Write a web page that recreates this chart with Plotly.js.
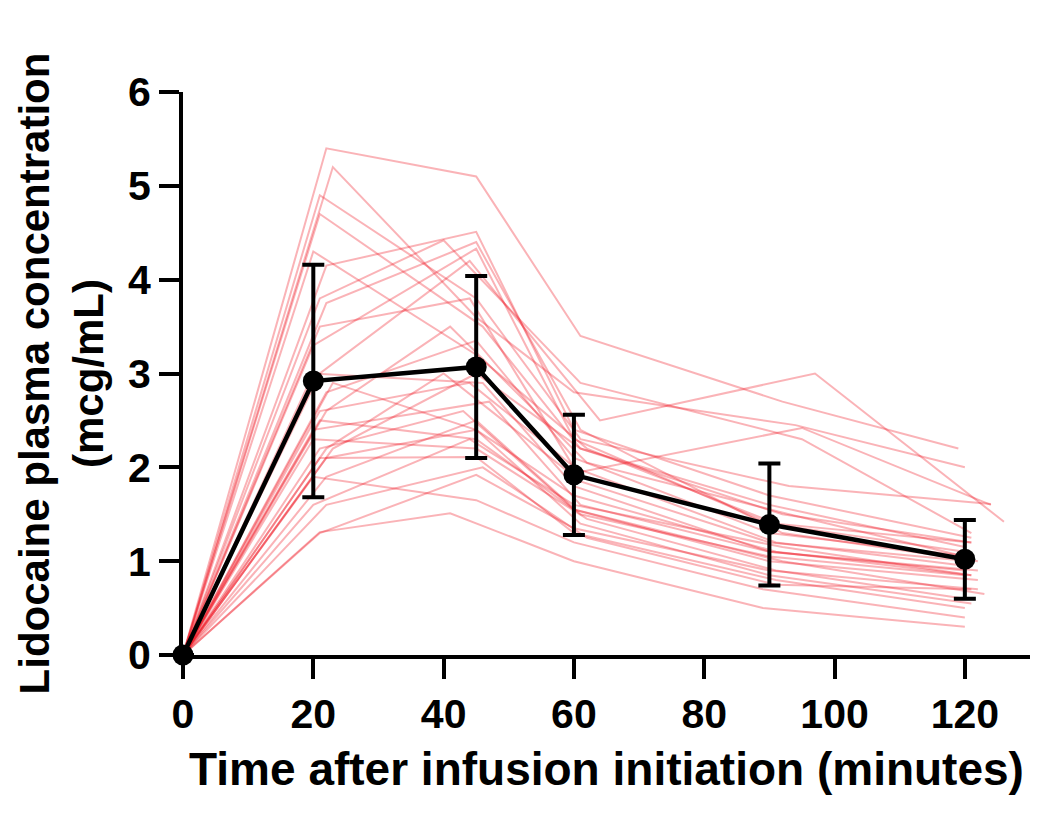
<!DOCTYPE html>
<html>
<head>
<meta charset="utf-8">
<script src="https://cdn.plot.ly/plotly-3.0.1.min.js"></script>
<style>
  html, body { margin: 0; padding: 0; background: #ffffff; }
  #chart { width: 1050px; height: 814px; }
</style>
</head>
<body>
<div id="chart"></div>
<script>
// Individual patient sampling times (minutes)
const patientTimes = [
  [0, 22, 45, 61, 92, 119],
  [0, 23, 45, 60, 94, 120],
  [0, 21, 45, 61, 93, 124],
  [0, 21, 46, 61, 92, 121],
  [0, 20, 45, 62, 91, 121],
  [0, 22, 45, 60, 90, 121],
  [0, 21, 40, 61, 95, 121],
  [0, 22, 45, 61, 92, 122],
  [0, 20, 45, 60, 90, 120],
  [0, 21, 44, 60, 91, 120],
  [0, 22, 45, 60, 90, 121],
  [0, 21, 44, 64, 97, 126],
  [0, 21, 44, 61, 95, 124],
  [0, 20, 46, 60, 90, 122],
  [0, 22, 41, 62, 93, 120],
  [0, 23, 45, 60, 91, 121],
  [0, 20, 47, 61, 90, 120],
  [0, 21, 45, 60, 92, 123],
  [0, 22, 40, 61, 90, 121],
  [0, 20, 45, 62, 91, 120],
  [0, 21, 43, 60, 90, 122],
  [0, 21, 45, 60, 91, 120],
  [0, 22, 45, 61, 90, 121],
  [0, 20, 45, 60, 89, 120],
  [0, 22, 46, 62, 91, 121],
  [0, 21, 45, 60, 90, 122],
  [0, 21, 41, 60, 89, 120],
  [0, 22, 45, 61, 90, 120],
  [0, 20, 44, 60, 92, 121],
  [0, 23, 45, 61, 90, 120]
];

// Individual patient lidocaine concentrations (mcg/mL)
const patientConc = [
  [0, 5.40, 5.10, 3.40, 2.70, 2.20],
  [0, 5.20, 3.60, 2.80, 2.45, 2.00],
  [0, 4.90, 3.80, 2.30, 1.80, 1.61],
  [0, 4.70, 3.50, 2.20, 1.50, 1.20],
  [0, 4.30, 3.20, 2.20, 1.40, 1.20],
  [0, 4.15, 4.51, 2.40, 1.70, 1.25],
  [0, 3.80, 4.42, 2.90, 2.30, 1.30],
  [0, 3.75, 4.40, 2.40, 1.30, 1.00],
  [0, 3.30, 4.33, 2.30, 1.40, 1.10],
  [0, 3.50, 3.80, 2.00, 1.20, 0.95],
  [0, 2.80, 3.35, 2.10, 1.30, 1.05],
  [0, 3.00, 4.20, 2.50, 3.00, 1.42],
  [0, 2.60, 2.90, 1.95, 2.42, 1.60],
  [0, 3.00, 2.90, 1.80, 1.10, 0.90],
  [0, 2.60, 3.50, 2.05, 1.50, 1.05],
  [0, 2.90, 2.40, 1.70, 1.10, 0.85],
  [0, 2.40, 2.70, 1.60, 1.10, 0.90],
  [0, 2.50, 2.30, 1.55, 1.00, 0.65],
  [0, 2.20, 3.00, 1.85, 1.20, 1.00],
  [0, 2.30, 2.20, 1.45, 0.90, 0.60],
  [0, 2.20, 2.60, 1.55, 1.00, 0.80],
  [0, 2.10, 2.11, 1.30, 0.80, 0.50],
  [0, 2.10, 2.40, 1.40, 0.85, 0.55],
  [0, 1.90, 1.65, 1.20, 0.70, 0.40],
  [0, 1.60, 2.00, 1.25, 0.75, 0.70],
  [0, 1.30, 1.92, 1.35, 0.90, 0.70],
  [0, 1.31, 1.51, 1.00, 0.50, 0.30],
  [0, 1.90, 2.50, 1.50, 1.05, 0.85],
  [0, 1.60, 2.30, 1.60, 1.15, 0.85],
  [0, 2.20, 3.00, 2.20, 1.60, 1.15]
];

// Group mean and SD
const meanTimes = [0, 20, 45, 60, 90, 120];
const meanConc  = [0.0, 2.92, 3.07, 1.92, 1.39, 1.02];
const sdConc    = [0.0, 1.24, 0.97, 0.64, 0.65, 0.42];

// Axis ticks
const xTicks = [0, 20, 40, 60, 80, 100, 120];
const yTicks = [0, 1, 2, 3, 4, 5, 6];

const traces = [];
for (let i = 0; i < patientConc.length; i++) {
  traces.push({
    type: 'scatter',
    mode: 'lines',
    x: patientTimes[i],
    y: patientConc[i],
    line: { color: 'rgba(240, 20, 30, 0.32)', width: 2 },
    hoverinfo: 'skip',
    showlegend: false
  });
}
traces.push({
  type: 'scatter',
  mode: 'lines+markers',
  x: meanTimes,
  y: meanConc,
  line: { color: '#000000', width: 4.5 },
  marker: { color: '#000000', size: 21 },
  error_y: { type: 'data', array: sdConc, visible: true, color: '#000000', thickness: 4, width: 11 },
  cliponaxis: false,
  showlegend: false
});

const fontFam = '"Liberation Sans", Arial, Helvetica, sans-serif';

const layout = {
  width: 1050,
  height: 814,
  paper_bgcolor: '#ffffff',
  plot_bgcolor: '#ffffff',
  margin: { l: 183, r: 20, t: 92, b: 159 },
  showlegend: false,
  font: { family: fontFam, color: '#000000' },
  xaxis: {
    range: [0, 130],
    tickvals: xTicks,
    ticktext: xTicks.map(String),
    showgrid: false,
    zeroline: false,
    showline: true,
    linecolor: '#000000',
    linewidth: 4,
    ticks: 'outside',
    ticklen: 20,
    tickwidth: 4,
    tickcolor: '#000000',
    tickfont: { family: fontFam, size: 41, weight: 'bold', color: '#000000' },
    title: {
      text: 'Time after infusion initiation (minutes)',
      font: { family: fontFam, size: 46, weight: 'bold', color: '#000000' },
      standoff: 18
    }
  },
  yaxis: {
    range: [0, 6],
    tickvals: yTicks,
    ticktext: yTicks.map(String),
    showgrid: false,
    zeroline: false,
    showline: true,
    linecolor: '#000000',
    linewidth: 4,
    ticks: 'outside',
    ticklen: 20,
    tickwidth: 4,
    tickcolor: '#000000',
    tickfont: { family: fontFam, size: 41, weight: 'bold', color: '#000000' },
    title: {
      text: 'Lidocaine plasma concentration<br>(mcg/mL)',
      font: { family: fontFam, size: 42, weight: 'bold', color: '#000000' },
      standoff: 12
    }
  }
};

Plotly.newPlot('chart', traces, layout, { staticPlot: true, displayModeBar: false });
</script>
</body>
</html>
